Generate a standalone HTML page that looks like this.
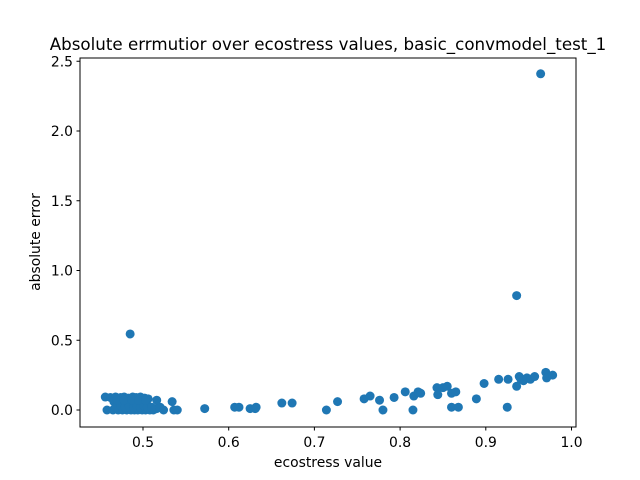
<!DOCTYPE html>
<html><head><meta charset="utf-8"><style>
body{margin:0;background:#fff;}
svg{display:block;font-family:"DejaVu Sans","Liberation Sans",sans-serif;}
</style></head><body>
<svg id="chart" width="640" height="480">
<rect width="640" height="480" fill="#fff"/>
<text x="328" y="50" text-anchor="middle" font-size="16.7">Absolute errmutior over ecostress values, basic_convmodel_test_1</text>
<g id="points"></g>
<rect x="80" y="58" width="496" height="369" fill="none" stroke="#000" stroke-width="1"/>
<g id="xticks"></g>
<g id="yticks"></g>
<text x="328" y="467" text-anchor="middle" font-size="13.9">ecostress value</text>
<text transform="translate(40,242) rotate(-90)" text-anchor="middle" font-size="13.9">absolute error</text>
</svg>
<script>
const xVals=[0.456,0.462,0.468,0.474,0.478,0.483,0.488,0.492,0.497,0.502,0.506,0.466,0.471,0.477,0.48,0.486,0.49,0.495,0.5,0.504,
0.458,0.465,0.471,0.476,0.481,0.486,0.49,0.494,0.499,0.503,0.508,0.512,0.516,0.52,0.524,0.468,0.474,0.479,0.484,0.489,0.493,0.497,0.501,0.505,0.51,0.47,0.478,0.487,0.495,0.503,
0.534,0.536,0.54,0.516,0.485,
0.572,0.607,0.612,0.625,0.631,0.632,0.662,0.674,0.714,0.727,0.758,0.765,0.776,0.78,0.793,0.806,0.815,0.816,0.821,0.824,0.843,0.844,0.85,0.855,0.86,0.86,0.865,0.868,0.889,0.898,0.915,0.925,0.926,0.936,0.939,0.941,0.944,0.948,0.952,0.957,0.97,0.971,0.978,0.936,0.964];
const yVals=[0.093,0.09,0.093,0.09,0.093,0.085,0.093,0.09,0.093,0.085,0.08,0.06,0.05,0.06,0.04,0.05,0.06,0.04,0.05,0.05,
0.0,0.0,0.0,0.0,0.0,0.0,0.0,0.0,0.0,0.0,0.0,0.0,0.01,0.02,0.0,0.02,0.03,0.02,0.03,0.02,0.03,0.02,0.03,0.02,0.02,0.07,0.07,0.07,0.07,0.07,
0.06,0.0,0.0,0.07,0.545,
0.01,0.02,0.02,0.01,0.01,0.02,0.05,0.05,0.0,0.06,0.08,0.1,0.07,0.0,0.09,0.13,0.0,0.1,0.13,0.12,0.16,0.11,0.16,0.17,0.12,0.02,0.13,0.02,0.08,0.19,0.22,0.02,0.22,0.17,0.24,0.22,0.21,0.23,0.22,0.24,0.27,0.23,0.25,0.82,2.41];
const xTicks=[0.5,0.6,0.7,0.8,0.9,1.0];
const yTicks=[0.0,0.5,1.0,1.5,2.0,2.5];
const X=v=>143+(v-0.5)*857;
const Y=v=>410-v*139.5;
const NS="http://www.w3.org/2000/svg";
const pg=document.getElementById('points');
xVals.forEach((xv,i)=>{const c=document.createElementNS(NS,'circle');
c.setAttribute('cx',X(xv));c.setAttribute('cy',Y(yVals[i]));c.setAttribute('r',4.5);c.setAttribute('fill','#1f77b4');


pg.appendChild(c);});
const xg=document.getElementById('xticks');
xTicks.forEach(t=>{const l=document.createElementNS(NS,'line');l.setAttribute('x1',X(t));l.setAttribute('x2',X(t));l.setAttribute('y1',427);l.setAttribute('y2',430.5);l.setAttribute('stroke','#000');


xg.appendChild(l);
const tx=document.createElementNS(NS,'text');tx.setAttribute('x',X(t));tx.setAttribute('y',447);tx.setAttribute('text-anchor','middle');tx.setAttribute('font-size','13.9');tx.textContent=t.toFixed(1);


xg.appendChild(tx);});
const yg=document.getElementById('yticks');
yTicks.forEach(t=>{const l=document.createElementNS(NS,'line');l.setAttribute('x1',76.5);l.setAttribute('x2',80);l.setAttribute('y1',Y(t));l.setAttribute('y2',Y(t));l.setAttribute('stroke','#000');


yg.appendChild(l);
const tx=document.createElementNS(NS,'text');tx.setAttribute('x',73);tx.setAttribute('y',Y(t)+5);tx.setAttribute('text-anchor','end');tx.setAttribute('font-size','13.9');tx.textContent=t.toFixed(1);


yg.appendChild(tx);});
</script>
</body></html>
